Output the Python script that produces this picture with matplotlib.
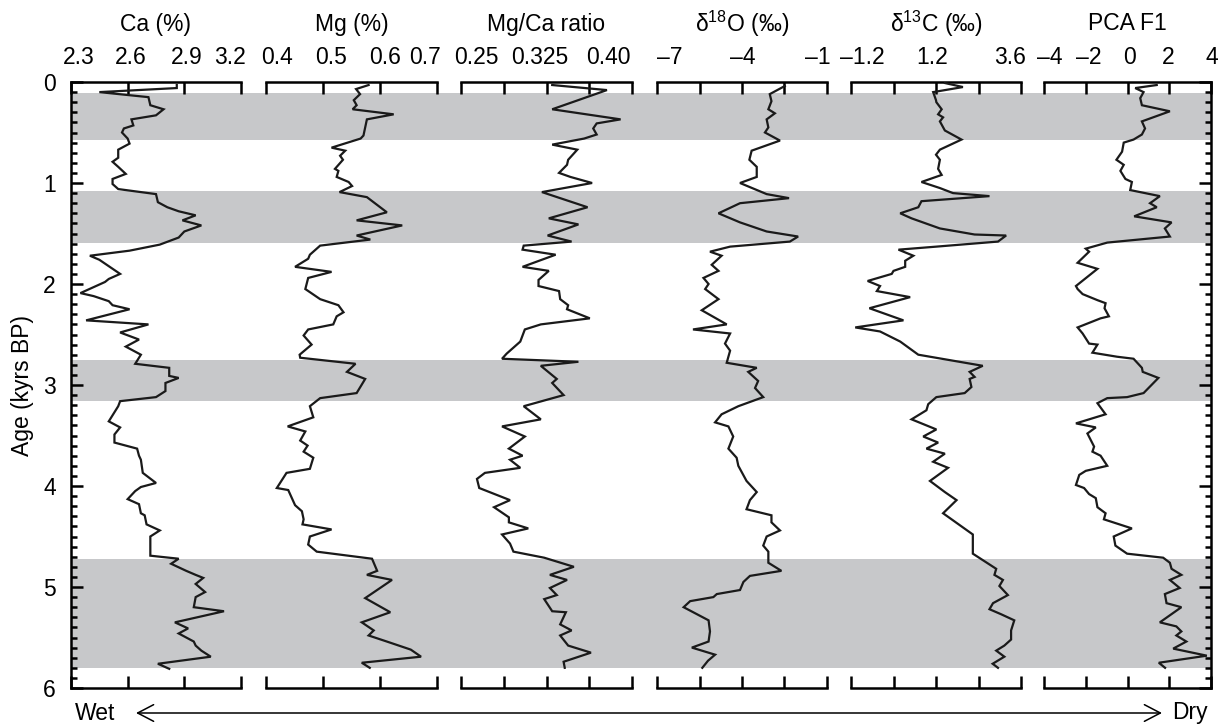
import matplotlib
matplotlib.use('Agg')
import matplotlib.pyplot as plt
import matplotlib.transforms as mtransforms
from matplotlib.ticker import MultipleLocator

plt.rcParams['font.family'] = ['Liberation Sans', 'DejaVu Sans']
plt.rcParams['mathtext.fontset'] = 'custom'
plt.rcParams['mathtext.rm'] = 'Liberation Sans'
plt.rcParams['mathtext.it'] = 'Liberation Sans:italic'
plt.rcParams['mathtext.bf'] = 'Liberation Sans:bold'

# ---------------- data (age in kyrs BP, value) ----------------
bands = [(0.11, 0.57), (1.08, 1.59), (2.75, 3.16), (4.72, 5.80)]

ca_data = [(0.03,2.86),(0.06,2.86),(0.10,2.45),(0.15,2.71),(0.23,2.72),(0.27,2.79),(0.33,2.75),(0.37,2.62),
 (0.43,2.63),(0.46,2.58),(0.50,2.57),(0.56,2.60),(0.61,2.61),(0.67,2.55),(0.75,2.55),(0.79,2.52),(0.84,2.55),
 (0.91,2.59),(0.96,2.52),(1.01,2.52),(1.06,2.55),(1.11,2.75),(1.19,2.76),(1.24,2.81),(1.28,2.87),(1.32,2.96),
 (1.37,2.89),(1.42,2.99),(1.48,2.90),(1.54,2.87),(1.61,2.77),(1.67,2.61),(1.72,2.40),(1.76,2.45),(1.90,2.56),
 (1.95,2.50),(1.98,2.48),(2.09,2.35),(2.12,2.42),(2.17,2.50),(2.21,2.52),(2.25,2.61),(2.36,2.38),(2.40,2.71),
 (2.48,2.56),(2.55,2.66),(2.62,2.59),(2.70,2.67),(2.79,2.64),(2.83,2.82),(2.91,2.82),(2.93,2.87),(2.98,2.80),
 (3.06,2.80),(3.12,2.75),(3.16,2.56),(3.21,2.55),(3.36,2.50),(3.42,2.56),(3.49,2.53),(3.57,2.53),(3.63,2.65),
 (3.70,2.66),(3.74,2.67),(3.87,2.68),(3.97,2.75),(4.01,2.67),(4.05,2.64),(4.13,2.60),(4.18,2.66),(4.27,2.67),
 (4.29,2.69),(4.38,2.70),(4.44,2.77),(4.50,2.72),(4.69,2.72),(4.72,2.87),(4.77,2.83),(4.84,2.91),(4.88,2.96),
 (4.91,3.00),(4.97,2.96),(5.05,3.01),(5.10,2.96),(5.20,2.95),(5.24,3.11),(5.35,2.85),(5.41,2.92),(5.46,2.87),
 (5.54,2.95),(5.58,2.96),(5.63,2.99),(5.69,3.04),(5.76,2.76),(5.81,2.82)]

mg_data = [(0.03,0.580),(0.07,0.558),(0.12,0.565),(0.18,0.554),(0.23,0.559),(0.27,0.552),(0.32,0.624),(0.37,0.577),
 (0.45,0.574),(0.53,0.571),(0.56,0.566),(0.65,0.515),(0.68,0.539),(0.73,0.530),(0.77,0.535),(0.86,0.521),
 (0.88,0.527),(0.94,0.524),(0.99,0.545),(1.03,0.551),(1.09,0.529),(1.14,0.577),(1.29,0.612),(1.37,0.559),
 (1.42,0.639),(1.52,0.559),(1.56,0.583),(1.62,0.495),(1.71,0.477),(1.75,0.474),(1.83,0.451),(1.88,0.515),
 (1.94,0.474),(2.05,0.469),(2.15,0.495),(2.21,0.527),(2.28,0.536),(2.32,0.524),(2.40,0.518),(2.45,0.474),
 (2.51,0.466),(2.60,0.480),(2.70,0.459),(2.73,0.460),(2.79,0.557),(2.87,0.542),(2.94,0.574),(3.08,0.559),
 (3.13,0.495),(3.21,0.477),(3.32,0.483),(3.41,0.438),(3.46,0.469),(3.55,0.460),(3.60,0.473),(3.66,0.466),
 (3.72,0.483),(3.83,0.477),(3.87,0.436),(4.02,0.419),(4.04,0.439),(4.19,0.451),(4.25,0.463),(4.33,0.466),
 (4.38,0.464),(4.43,0.515),(4.50,0.477),(4.58,0.474),(4.65,0.489),(4.72,0.586),(4.84,0.595),(4.88,0.577),
 (4.93,0.621),(5.11,0.574),(5.25,0.618),(5.35,0.568),(5.43,0.589),(5.48,0.580),(5.54,0.612),(5.62,0.654),
 (5.69,0.672),(5.75,0.568),(5.80,0.582)]

mgca_data = [(0.03,0.330),(0.08,0.378),(0.27,0.330),(0.37,0.390),(0.41,0.369),(0.46,0.366),(0.52,0.369),
 (0.56,0.358),(0.62,0.330),(0.67,0.352),(0.77,0.344),(0.82,0.343),(0.90,0.336),(0.94,0.346),(1.00,0.365),
 (1.09,0.321),(1.24,0.361),(1.35,0.327),(1.41,0.353),(1.52,0.326),(1.58,0.347),(1.62,0.305),(1.66,0.304),
 (1.71,0.333),(1.83,0.304),(1.87,0.327),(1.96,0.318),(2.02,0.318),(2.07,0.336),(2.15,0.337),(2.21,0.344),
 (2.25,0.343),(2.34,0.363),(2.40,0.320),(2.45,0.306),(2.57,0.302),(2.69,0.290),(2.74,0.286),(2.77,0.353),
 (2.81,0.320),(2.94,0.334),(2.98,0.330),(3.10,0.340),(3.21,0.305),(3.34,0.320),(3.41,0.286),(3.51,0.306),
 (3.63,0.292),(3.70,0.304),(3.74,0.293),(3.82,0.302),(3.87,0.271),(3.93,0.264),(4.02,0.266),(4.14,0.293),
 (4.21,0.279),(4.31,0.292),(4.36,0.292),(4.42,0.309),(4.48,0.286),(4.57,0.293),(4.65,0.296),(4.71,0.323),
 (4.80,0.349),(4.88,0.328),(4.93,0.343),(5.01,0.328),(5.08,0.334),(5.12,0.323),(5.24,0.330),(5.25,0.342),
 (5.37,0.337),(5.43,0.347),(5.48,0.337),(5.58,0.344),(5.65,0.364),(5.74,0.340),(5.80,0.341)]

d18o_data = [(0.04,-2.49),(0.12,-3.02),(0.19,-2.96),(0.27,-3.07),(0.31,-2.84),(0.37,-3.13),(0.45,-3.07),
 (0.50,-3.19),(0.58,-2.66),(0.68,-3.66),(0.77,-3.74),(0.84,-3.48),(0.94,-3.48),(1.00,-4.07),(1.11,-3.13),
 (1.15,-2.34),(1.20,-4.07),(1.30,-4.83),(1.39,-4.07),(1.48,-3.13),(1.53,-2.02),(1.58,-2.31),(1.63,-4.42),
 (1.68,-5.13),(1.72,-4.72),(1.81,-5.07),(1.87,-4.83),(1.94,-5.36),(2.00,-5.18),(2.05,-5.30),(2.15,-4.83),
 (2.26,-5.42),(2.40,-4.54),(2.45,-5.73),(2.49,-4.42),(2.59,-4.60),(2.66,-4.42),(2.78,-4.54),(2.83,-3.48),
 (2.87,-3.78),(2.96,-3.43),(3.03,-3.54),(3.12,-3.25),(3.21,-4.13),(3.29,-4.72),(3.37,-4.95),(3.41,-4.48),
 (3.51,-4.31),(3.63,-4.48),(3.72,-4.19),(3.80,-4.13),(3.95,-3.84),(4.06,-3.48),(4.14,-3.72),(4.23,-3.84),
 (4.29,-2.96),(4.36,-2.96),(4.44,-2.66),(4.50,-3.13),(4.59,-3.25),(4.65,-3.07),(4.76,-3.07),(4.84,-2.61),
 (4.89,-3.72),(4.95,-3.95),(5.03,-4.07),(5.07,-4.89),(5.10,-5.01),(5.14,-5.83),(5.20,-6.06),(5.33,-5.18),
 (5.44,-5.13),(5.54,-5.18),(5.60,-5.77),(5.67,-4.95),(5.73,-5.20),(5.80,-5.40)]

d13c_data = [(0.01,1.45),(0.05,1.96),(0.10,1.12),(0.18,1.20),(0.20,1.21),(0.27,1.36),(0.32,1.26),(0.35,1.40),
 (0.39,1.31),(0.48,1.45),(0.57,1.92),(0.67,1.31),(0.72,1.20),(0.77,1.31),(0.86,1.26),(0.92,1.36),(0.99,0.79),
 (1.05,1.31),(1.10,1.68),(1.13,2.71),(1.18,0.79),(1.24,0.70),(1.30,0.19),(1.35,0.51),(1.45,1.31),(1.51,2.29),
 (1.52,3.18),(1.58,2.95),(1.63,1.21),(1.66,0.14),(1.72,0.56),(1.77,0.33),(1.83,0.33),(1.87,0.00),(1.90,-0.05),
 (1.97,-0.73),(2.02,-0.38),(2.07,-0.47),(2.13,0.47),(2.24,-0.68),(2.36,0.28),(2.43,-1.08),(2.47,-0.38),
 (2.57,0.19),(2.70,0.70),(2.81,2.52),(2.87,2.15),(2.92,2.29),(2.94,2.15),(3.02,2.20),(3.08,2.01),(3.12,1.21),
 (3.19,0.98),(3.25,0.93),(3.34,0.51),(3.44,1.21),(3.51,0.84),(3.57,1.26),(3.63,0.93),(3.68,1.45),(3.76,1.12),
 (3.82,1.54),(3.95,1.03),(4.06,1.45),(4.14,1.78),(4.27,1.40),(4.48,2.24),(4.67,2.24),(4.82,2.90),(4.88,2.85),
 (4.93,3.09),(4.99,2.99),(5.08,3.23),(5.16,2.81),(5.22,2.71),(5.27,3.04),(5.33,3.41),(5.43,3.32),(5.52,3.32),
 (5.58,3.13),(5.63,2.90),(5.69,3.13),(5.76,2.80),(5.80,2.95)]

pca_data = [(0.03,1.40),(0.06,0.37),(0.10,0.77),(0.16,0.61),(0.23,0.69),(0.29,2.03),(0.39,0.69),(0.46,0.84),
 (0.52,0.69),(0.57,0.29),(0.60,-0.18),(0.69,-0.26),(0.77,-0.53),(0.82,-0.18),(0.88,-0.34),(0.96,-0.10),
 (0.99,0.21),(1.07,0.13),(1.13,1.55),(1.20,1.08),(1.24,1.40),(1.33,0.32),(1.39,2.11),(1.45,1.79),(1.53,2.03),
 (1.59,-0.97),(1.65,-2.00),(1.68,-1.84),(1.79,-2.39),(1.85,-1.44),(2.02,-2.47),(2.05,-2.39),(2.10,-2.15),
 (2.16,-1.44),(2.19,-1.05),(2.24,-1.10),(2.32,-0.89),(2.34,-1.29),(2.43,-2.39),(2.49,-2.15),(2.59,-1.84),
 (2.60,-1.44),(2.68,-1.68),(2.72,-0.50),(2.74,0.29),(2.83,0.69),(2.87,0.73),(2.93,1.48),(3.08,0.77),
 (3.12,-0.02),(3.13,-0.97),(3.18,-1.44),(3.29,-1.05),(3.38,-2.47),(3.42,-1.52),(3.48,-1.92),(3.61,-1.60),
 (3.66,-1.68),(3.70,-1.29),(3.80,-0.97),(3.85,-2.00),(3.89,-2.31),(3.99,-2.47),(4.02,-2.08),(4.08,-1.84),
 (4.12,-1.52),(4.21,-1.44),(4.27,-1.05),(4.33,-1.13),(4.42,0.21),(4.50,-0.66),(4.59,-0.58),(4.67,-0.02),
 (4.71,1.71),(4.76,2.03),(4.82,2.11),(4.88,2.58),(4.93,2.03),(5.01,2.50),(5.07,1.79),(5.16,1.87),(5.20,2.58),
 (5.35,1.55),(5.39,2.34),(5.44,2.58),(5.48,2.34),(5.54,2.82),(5.61,2.19),(5.68,3.80),(5.75,1.50),(5.80,1.80)]

titles = ['Ca (%)', 'Mg (%)', 'Mg/Ca ratio', 'δ$^{18}$O (‰)', 'δ$^{13}$C (‰)', 'PCA F1']
xlims = [(2.3, 3.2), (0.4, 0.7), (0.25, 0.40), (-7, -1), (-1.2, 3.6), (-4, 4)]
xticks = [[2.3, 2.6, 2.9, 3.2], [0.4, 0.5, 0.6, 0.7], [0.25, 0.2875, 0.325, 0.3625, 0.40],
          [-7, -5.5, -4, -2.5, -1], [-1.2, 0, 1.2, 2.4, 3.6], [-4, -2, 0, 2, 4]]
xticklabels = [['2.3', '2.6', '2.9', '3.2'], ['0.4', '0.5', '0.6', '0.7'], ['0.25', '', '0.325', '', '0.40'],
               ['–7', '', '–4', '', '–1'], ['–1.2', '', '1.2', '', '3.6'], ['–4', '–2', '0', '2', '4']]
series = [ca_data, mg_data, mgca_data, d18o_data, d13c_data, pca_data]

# ---------------- layout (pixels) ----------------
W, H = 1223, 727
TOP, BOT = 82, 688
panel_px = [(71, 241), (266, 437), (461, 632), (657, 827), (851, 1021), (1044, 1211)]
# horizontal nudges (px) of the top tick labels, as placed in the original figure
label_dx = [[8, 3, 2, -11], [11, 8, 5, -12], [15, 0, -7, 0, -24],
            [13, 0, 1, 0, -9], [11, 0, -4, 0, -11], [6, 3, 2, -1, 1]]
FS = 16.5
GRAY = '#c7c8ca'
LW_SP = 1.8

fig = plt.figure(figsize=(W / 100, H / 100), dpi=100)

def fx(px):
    return px / W

def fy(py):
    return 1 - py / H

# background axis: shading + age axis
axb = fig.add_axes([fx(71), fy(BOT), (1211 - 71) / W, (BOT - TOP) / H])
axb.set_xlim(0, 1)
axb.set_ylim(6, 0)
for a0, a1 in bands:
    axb.axhspan(a0, a1, color=GRAY, lw=0, zorder=0)
for s in ['top', 'bottom']:
    axb.spines[s].set_visible(False)
for s in ['left', 'right']:
    axb.spines[s].set_linewidth(LW_SP)
axb.set_xticks([])
axb.yaxis.set_major_locator(MultipleLocator(1))
axb.yaxis.set_minor_locator(MultipleLocator(0.1))
axb.tick_params(axis='y', which='both', direction='in', left=True, right=True,
                labelleft=True, labelright=False, width=LW_SP, labelsize=FS, pad=11)
axb.tick_params(axis='y', which='major', length=8.5)
axb.tick_params(axis='y', which='minor', length=4.3)
fig.text(fx(23), fy(385), 'Age (kyrs BP)', rotation=90, ha='center', va='center', fontsize=FS)

for (x0, x1), data, title, lim, tk, tl, dxs in zip(panel_px, series, titles, xlims, xticks,
                                                   xticklabels, label_dx):
    ax = fig.add_axes([fx(x0), fy(BOT), (x1 - x0) / W, (BOT - TOP) / H])
    ax.patch.set_alpha(0)
    ages = [a for a, v in data]
    vals = [v for a, v in data]
    ax.plot(vals, ages, color='#1a1a1a', lw=1.6, solid_joinstyle='miter', zorder=3)
    ax.set_xlim(*lim)
    ax.set_ylim(6, 0)
    ax.set_yticks([])
    for s in ['left', 'right']:
        ax.spines[s].set_visible(False)
    for s in ['top', 'bottom']:
        ax.spines[s].set_linewidth(LW_SP)
    ax.set_xticks(tk)
    ax.tick_params(axis='x', direction='in', top=True, bottom=True, labeltop=False,
                   labelbottom=False, length=8.5, width=LW_SP)
    blend = mtransforms.blended_transform_factory(ax.transData, ax.transAxes)
    for v, s, dx in zip(tk, tl, dxs):
        if s:
            off = mtransforms.ScaledTranslation(dx / 100, 0, fig.dpi_scale_trans)
            ax.text(v, 1 + (TOP - 57) / (BOT - TOP), s, transform=blend + off,
                    ha='center', va='center', fontsize=FS)
    ax.text(0.5, 1 + (TOP - 24) / (BOT - TOP), title, transform=ax.transAxes,
            ha='center', va='center', fontsize=FS)

# wet / dry arrow
fig.text(fx(75), fy(713), 'Wet', ha='left', va='center', fontsize=FS)
fig.text(fx(1208), fy(713), 'Dry', ha='right', va='center', fontsize=FS)
axb.annotate('', xy=(fx(1162), fy(713)), xytext=(fx(136), fy(713)),
             xycoords='figure fraction', textcoords='figure fraction', annotation_clip=False,
             arrowprops=dict(arrowstyle='<->,head_length=1.15,head_width=0.6', mutation_scale=10,
                             lw=1.1, color='k', shrinkA=0, shrinkB=0))

fig.savefig('out.png', dpi=100)
